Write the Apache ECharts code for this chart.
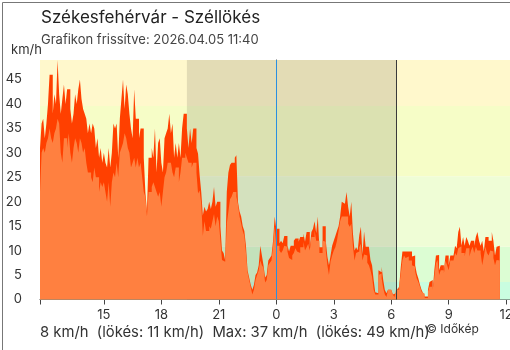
<!DOCTYPE html>
<html>
<head>
<meta charset="utf-8">
<script src="https://cdn.jsdelivr.net/npm/echarts@6/dist/echarts.min.js"></script>
<style>
  html, body { margin: 0; padding: 0; background: #fff; }
  #chart { width: 510px; height: 350px; }
</style>
</head>
<body>
<div id="chart"></div>
<script>
// Station and update time
const stationName = 'Székesfehérvár';
const chartKind = 'Széllökés';
const updatedAt = '2026.04.05 11:40';
const credit = '© Időkép';

// Time axis: hours relative to midnight, one sample every 5 minutes from 11:40
const startHour = -12 - 20 / 60;
const slotMinutes = 5;
const endHour = 12.2;
const sunsetHour = -4 - 40 / 60;   // 19:20
const sunriseHour = 6 + 15 / 60;   // 06:15
const xLabelHours = [-9, -6, -3, 0, 3, 6, 9, 12];

// Wind-speed bands in km/h (1, 3, 7, 11 m/s) and the top of the scale
const bandEdges = [0, 3.6, 10.8, 25.2, 39.6, 49];
const bandColors = ['#c9fde0', '#dcfdd3', '#effdd6', '#f6fdc7', '#fff8cc'];
const yTicks = [0, 5, 10, 15, 20, 25, 30, 35, 40, 45];

// Gusts (km/h), 5-minute maxima
const gust = [
  31, 36, 37, 33, 36, 40, 46, 46, 38, 42, 40, 49, 42, 38, 41, 44, 40, 43, 43, 39,
  36, 38, 42, 40, 43, 45, 41, 39, 38, 37, 34, 36, 34, 36, 35, 31, 33, 29, 31, 28,
  30, 28, 27, 31, 27, 30, 36, 35, 36, 29,
  37, 41, 45, 39, 44, 42, 38, 35, 33, 43, 37, 37, 33, 35, 35, 29, 22, 18, 29, 29,
  31, 29, 35, 26, 32, 33, 28, 26, 33, 34, 35, 38, 34, 36, 29, 32, 29, 32, 29, 35,
  38, 38, 35, 31, 35, 32, 35, 35, 31,
  29.8, 25.4, 22, 17.2, 19, 18, 18.5, 20, 18.5, 20, 23, 19, 20, 20, 15, 10, 9.5, 8, 22, 26,
  27.5, 28, 28, 29, 29.5, 20, 18, 17, 15, 14, 11, 6, 4.5, 3, 2, 3, 5, 5.5, 7, 11,
  9, 7, 4.5, 5, 8, 8.5, 9, 12, 17,
  14.5, 14.5, 11.5, 12, 11.5, 13, 13, 11, 9.8, 11, 11, 12, 12.5, 12.5, 11.8, 12.8, 12.8, 13.5, 11.8, 13.8,
  13.8, 10.7, 13.8, 14.5, 16, 13.6, 17, 10.7, 10.7, 15, 15, 12, 8.8, 7, 9, 11, 12, 13, 14, 15,
  17, 20, 19.6, 20, 22, 19, 17, 20, 13.6, 10, 10.7,
  10.1, 13.2, 14.9, 9.2, 13.9, 10.8, 10.8, 10.8, 8.1, 7, 4, 1.5, 1.3, 6, 5.6, 6.7, 4, 2, 1.3, 2,
  2, 2, 1, 1.3, 3, 2, 2.7, 6.7, 9.8, 9.8, 9.5, 9.8, 9.8, 9.8, 8.8, 9, 7, 5.3, 4.3, 3,
  2, 1.3, 0.6, 0.6, 2, 3.6, 4, 2, 6, 9,
  9.1, 6, 7, 7, 6, 9, 9, 7, 9, 9, 9, 11, 10.5, 13.8, 14.9, 11, 12.8, 11, 12.8, 12,
  11, 12, 12, 11, 12.8, 13.8, 12, 11, 12, 9.8, 12.8, 12.8, 12, 12, 13.8, 12, 9, 10.8, 11
];

// Mean wind speed (km/h), 5-minute averages
const mean = [
  22, 30, 31, 30, 32, 33, 35, 33, 32, 34, 35, 37, 36, 30, 28, 33, 33, 31, 34, 30,
  28, 31, 33, 32, 30, 33, 32, 30, 31, 28, 26, 26, 25, 24, 27, 25, 25, 22, 24, 23,
  24, 22, 20, 24, 19, 24, 26, 25, 28, 25,
  30, 31, 32, 34, 33, 31, 30, 27, 28, 29, 27, 29, 27, 28, 25, 22, 21, 17, 22, 22,
  23, 24, 23, 22, 21, 22, 19, 22, 25, 26, 28, 28, 28, 26, 25, 27, 27, 24, 26, 29,
  29, 30, 29, 28, 28, 27, 28, 28, 26,
  21.7, 22.3, 19.6, 13, 16, 14, 14, 15, 14.5, 16, 17.5, 15, 17, 16, 12, 8.1, 7.7, 7.7, 15.5, 18,
  20.5, 21, 22, 22, 21, 19.5, 17, 15.5, 14, 13, 9.5, 5.5, 4, 2.5, 1, 2, 4, 5, 6, 8,
  7, 6.5, 3.5, 4, 7, 7.5, 8, 11, 15,
  11, 11, 10, 9.5, 10, 11, 10.8, 9.8, 8.5, 8.1, 9, 9.5, 10.5, 9.8, 9.5, 10.7, 10.7, 11.8, 10, 10.7,
  11.4, 10, 12.8, 12.8, 14.1, 12, 12, 9.5, 9.5, 12, 11.8, 10, 7, 5, 7.8, 9, 10, 10.7, 12, 14,
  16, 17, 17, 16.7, 17, 15.5, 14.9, 15.5, 11, 8, 9.5,
  9.8, 10.7, 11.4, 8, 9.2, 9, 7.5, 7, 6, 4.6, 2, 1, 1, 5, 5.3, 4.3, 2.3, 1, 0.5, 2,
  2, 2, 1, 0.5, 2, 2, 2.7, 5.3, 8, 9, 8.5, 8.8, 8, 8, 7, 6.7, 5.7, 4.3, 3.6, 2.6,
  1.6, 1.2, 0.3, 0.3, 1.6, 2.6, 2.6, 2, 4.6, 7.4,
  8.1, 5, 6, 6, 5.3, 8, 7, 6, 8, 8, 8, 9.5, 9, 10.5, 10.9, 9.5, 9.5, 8.8, 10.5, 10.5,
  8.8, 10, 10.8, 9.5, 10.8, 10, 10, 9.5, 7, 8.8, 10.8, 9.5, 9, 10, 9.8, 8.5, 7, 8.1, 8
];

const FONT = 'Inter';
const TEXT = '#333';

// [hour, value] pairs; a closing point keeps the last 5-minute step
function toSteps(values) {
  const pts = values.map((v, i) => [startHour + i * slotMinutes / 60, v]);
  pts.push([startHour + values.length * slotMinutes / 60, values[values.length - 1]]);
  return pts;
}

const round = v => Math.round(v);
const summary =
  `${round(mean[mean.length - 1])} km/h  (lökés: ${round(gust[gust.length - 1])} km/h)  ` +
  `Max: ${round(Math.max(...mean))} km/h  (lökés: ${round(Math.max(...gust))} km/h)`;

const bandAreas = bandColors.map((c, i) => [
  { yAxis: bandEdges[i], itemStyle: { color: c } },
  { yAxis: bandEdges[i + 1] }
]);
const nightArea = [
  { xAxis: sunsetHour, itemStyle: { color: 'rgba(0,0,0,0.11)' } },
  { xAxis: sunriseHour }
];

// A vertical marker line at a given hour, carried by an otherwise empty series
function markerSeries(hour, color, z) {
  return {
    type: 'line',
    z: z,
    silent: true,
    symbol: 'none',
    lineStyle: { opacity: 0 },
    data: [[startHour, 0]],
    markLine: {
      silent: true,
      symbol: 'none',
      label: { show: false },
      lineStyle: { type: 'solid', width: 1, color: color, opacity: 1 },
      emphasis: { disabled: true },
      data: [{ xAxis: hour }]
    }
  };
}

const chart = echarts.init(document.getElementById('chart'), null, { renderer: 'canvas' });
chart.setOption({
  animation: false,
  backgroundColor: '#fff',
  textStyle: { fontFamily: FONT },
  grid: { left: 40, right: 0, top: 60, bottom: 50.5, containLabel: false, outerBoundsMode: 'none' },
  xAxis: {
    type: 'value',
    min: startHour,
    max: endHour,
    axisLine: { show: true, lineStyle: { color: '#444', width: 1 } },
    axisTick: {
      show: true, length: 5, lineStyle: { color: '#444' },
      customValues: [startHour].concat(xLabelHours)
    },
    axisLabel: {
      customValues: xLabelHours,
      formatter: v => String(((Math.round(v) % 24) + 24) % 24),
      color: TEXT, fontSize: 13, fontFamily: FONT, margin: 9
    },
    splitLine: { show: false }
  },
  yAxis: {
    type: 'value',
    min: 0,
    max: 49,
    axisLine: { show: true, lineStyle: { color: '#444', width: 1 } },
    axisTick: { show: true, length: 6, lineStyle: { color: '#444' }, customValues: yTicks },
    axisLabel: { customValues: yTicks, color: TEXT, fontSize: 13, fontFamily: FONT, margin: 18 },
    splitLine: { show: false }
  },
  series: [
    {
      name: 'háttér',
      type: 'line',
      z: 1,
      silent: true,
      symbol: 'none',
      lineStyle: { opacity: 0 },
      data: [[startHour, 0]],
      markArea: { silent: true, data: bandAreas.concat([nightArea]) }
    },
    markerSeries(0, '#2a8fe0', 2),
    markerSeries(sunriseHour, '#3a3a3a', 2),
    {
      name: 'Széllökés',
      type: 'line',
      z: 3,
      step: 'end',
      symbol: 'none',
      sampling: false,
      lineStyle: { width: 0, opacity: 0 },
      areaStyle: { color: '#ff4000', opacity: 1 },
      data: toSteps(gust)
    },
    {
      name: 'Szélsebesség',
      type: 'line',
      z: 4,
      step: 'end',
      symbol: 'none',
      sampling: false,
      lineStyle: { width: 0, opacity: 0 },
      areaStyle: { color: '#ff8040', opacity: 1 },
      data: toSteps(mean)
    }
  ],
  graphic: [
    { type: 'text', left: 41, top: 9, style: { text: `${stationName} - ${chartKind}`, fontSize: 17, fontFamily: FONT, fill: '#222' } },
    { type: 'text', left: 41, top: 34, style: { text: `Grafikon frissítve: ${updatedAt}`, fontSize: 13, fontFamily: FONT, fill: '#444' } },
    { type: 'text', left: 11, top: 44, style: { text: 'km/h', fontSize: 13, fontFamily: FONT, fill: TEXT } },
    { type: 'text', left: 40, top: 325, style: { text: summary, fontSize: 14.8, fontFamily: FONT, fill: TEXT } },
    { type: 'text', left: 426, top: 323, style: { text: credit, fontSize: 12, fontFamily: FONT, fill: TEXT } },
    { type: 'rect', left: 0, top: 0, z: 100, shape: { x: 0.5, y: 0.5, width: 509, height: 349 }, style: { fill: 'none', stroke: '#777', lineWidth: 1 } }
  ]
});
</script>
</body>
</html>
